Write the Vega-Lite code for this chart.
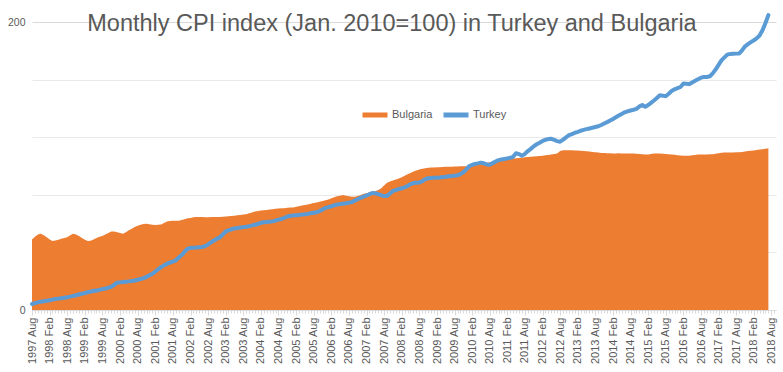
{
"$schema": "https://vega.github.io/schema/vega-lite/v6.json",
"width": 744, "height": 305,
"autosize": {"type": "none"},
"padding": {"left": 32, "top": 5, "right": 7, "bottom": 62},
"background": "white",
"title": {"text": "Monthly CPI index (Jan. 2010=100) in Turkey and Bulgaria", "font": "Liberation Sans", "fontSize": 23.5, "fontWeight": "normal", "color": "#595959", "anchor": "middle", "frame": "group", "orient": "top", "offset": -49, "dx": -12, "baseline": "alphabetic"},
"config": {"view": {"stroke": null}, "font": "Liberation Sans"},
"data": {"values": [
{"d":"1997-08","b":49,"t":4.2},{"d":"1997-09","b":51,"t":4.8},{"d":"1997-10","b":52.5,"t":5.3},{"d":"1997-11","b":53,"t":5.8},{"d":"1997-12","b":52,"t":6.1},
{"d":"1998-01","b":50.5,"t":6.4},{"d":"1998-02","b":49,"t":6.8},{"d":"1998-03","b":48,"t":7.2},{"d":"1998-04","b":48.3,"t":7.6},{"d":"1998-05","b":48.8,"t":7.9},{"d":"1998-06","b":49.5,"t":8.2},{"d":"1998-07","b":50,"t":8.5},{"d":"1998-08","b":50.5,"t":8.8},{"d":"1998-09","b":52,"t":9.3},{"d":"1998-10","b":53,"t":9.8},{"d":"1998-11","b":52.5,"t":10.3},{"d":"1998-12","b":51.5,"t":10.8},
{"d":"1999-01","b":50,"t":11.3},{"d":"1999-02","b":48.8,"t":11.8},{"d":"1999-03","b":48,"t":12.3},{"d":"1999-04","b":48.2,"t":12.8},{"d":"1999-05","b":49,"t":13.2},{"d":"1999-06","b":50,"t":13.6},{"d":"1999-07","b":51,"t":14},{"d":"1999-08","b":51.5,"t":14.5},{"d":"1999-09","b":52.5,"t":14.9},{"d":"1999-10","b":53.5,"t":15.5},{"d":"1999-11","b":54.5,"t":16.1},{"d":"1999-12","b":54.5,"t":17.5},
{"d":"2000-01","b":54,"t":19},{"d":"2000-02","b":53.5,"t":19.2},{"d":"2000-03","b":53,"t":19.4},{"d":"2000-04","b":54,"t":19.7},{"d":"2000-05","b":55.5,"t":19.9},{"d":"2000-06","b":56.5,"t":20.2},{"d":"2000-07","b":57.7,"t":20.5},{"d":"2000-08","b":58.5,"t":21},{"d":"2000-09","b":59.3,"t":21.5},{"d":"2000-10","b":59.8,"t":22.1},{"d":"2000-11","b":60,"t":23},{"d":"2000-12","b":59.6,"t":24.2},
{"d":"2001-01","b":59.2,"t":25.2},{"d":"2001-02","b":59,"t":26.7},{"d":"2001-03","b":59.2,"t":28.3},{"d":"2001-04","b":59.5,"t":29.8},{"d":"2001-05","b":60.5,"t":31},{"d":"2001-06","b":61.6,"t":32.2},{"d":"2001-07","b":61.9,"t":33},{"d":"2001-08","b":62,"t":33.6},{"d":"2001-09","b":62,"t":34.5},{"d":"2001-10","b":62,"t":36.5},{"d":"2001-11","b":62.5,"t":38.2},{"d":"2001-12","b":63.1,"t":40.5},
{"d":"2002-01","b":63.7,"t":42.6},{"d":"2002-02","b":64,"t":43.2},{"d":"2002-03","b":64.4,"t":43.3},{"d":"2002-04","b":64.6,"t":43.4},{"d":"2002-05","b":64.7,"t":43.6},{"d":"2002-06","b":64.6,"t":43.8},{"d":"2002-07","b":64.5,"t":44.4},{"d":"2002-08","b":64.5,"t":45.6},{"d":"2002-09","b":64.6,"t":47},{"d":"2002-10","b":64.7,"t":48.3},{"d":"2002-11","b":64.6,"t":49.5},{"d":"2002-12","b":64.6,"t":50.5},
{"d":"2003-01","b":64.8,"t":52.5},{"d":"2003-02","b":65,"t":54.6},{"d":"2003-03","b":65.1,"t":55.4},{"d":"2003-04","b":65.3,"t":56.1},{"d":"2003-05","b":65.5,"t":56.7},{"d":"2003-06","b":65.8,"t":57},{"d":"2003-07","b":66,"t":57.3},{"d":"2003-08","b":66.3,"t":57.6},{"d":"2003-09","b":66.5,"t":57.9},{"d":"2003-10","b":67.2,"t":58.3},{"d":"2003-11","b":67.8,"t":58.8},{"d":"2003-12","b":68.5,"t":59.3},
{"d":"2004-01","b":68.8,"t":59.8},{"d":"2004-02","b":69.1,"t":60.6},{"d":"2004-03","b":69.3,"t":61},{"d":"2004-04","b":69.5,"t":61.2},{"d":"2004-05","b":69.8,"t":61.4},{"d":"2004-06","b":70.1,"t":61.6},{"d":"2004-07","b":70.3,"t":62.1},{"d":"2004-08","b":70.6,"t":62.8},{"d":"2004-09","b":70.7,"t":63.3},{"d":"2004-10","b":70.8,"t":64.1},{"d":"2004-11","b":71,"t":65},{"d":"2004-12","b":71.2,"t":65.5},
{"d":"2005-01","b":71.3,"t":65.7},{"d":"2005-02","b":71.8,"t":65.9},{"d":"2005-03","b":72.2,"t":66.1},{"d":"2005-04","b":72.6,"t":66.3},{"d":"2005-05","b":73,"t":66.5},{"d":"2005-06","b":73.4,"t":66.8},{"d":"2005-07","b":73.9,"t":67.2},{"d":"2005-08","b":74.4,"t":67.6},{"d":"2005-09","b":74.8,"t":68},{"d":"2005-10","b":75.2,"t":68.8},{"d":"2005-11","b":75.8,"t":69.8},{"d":"2005-12","b":76.3,"t":71},
{"d":"2006-01","b":76.8,"t":71.5},{"d":"2006-02","b":77.6,"t":72.1},{"d":"2006-03","b":78.4,"t":72.7},{"d":"2006-04","b":79,"t":73.3},{"d":"2006-05","b":79.5,"t":73.6},{"d":"2006-06","b":79.9,"t":73.9},{"d":"2006-07","b":79.5,"t":74.2},{"d":"2006-08","b":79,"t":74.6},{"d":"2006-09","b":78.8,"t":75},{"d":"2006-10","b":78.7,"t":76},{"d":"2006-11","b":79.3,"t":77},{"d":"2006-12","b":80,"t":78},
{"d":"2007-01","b":80.8,"t":78.8},{"d":"2007-02","b":81.2,"t":79.6},{"d":"2007-03","b":81.6,"t":80.5},{"d":"2007-04","b":82.1,"t":81.3},{"d":"2007-05","b":82.6,"t":81.2},{"d":"2007-06","b":83.4,"t":80.5},{"d":"2007-07","b":84.5,"t":79.8},{"d":"2007-08","b":86.5,"t":79.2},{"d":"2007-09","b":88.5,"t":79.2},{"d":"2007-10","b":89.3,"t":81},{"d":"2007-11","b":90,"t":82.6},{"d":"2007-12","b":90.7,"t":83.4},
{"d":"2008-01","b":91.4,"t":84},{"d":"2008-02","b":92.3,"t":84.6},{"d":"2008-03","b":93.3,"t":85.2},{"d":"2008-04","b":94.3,"t":86.2},{"d":"2008-05","b":95.2,"t":87.5},{"d":"2008-06","b":96.2,"t":88.2},{"d":"2008-07","b":97,"t":88.4},{"d":"2008-08","b":97.7,"t":88.6},{"d":"2008-09","b":98.2,"t":89.5},{"d":"2008-10","b":98.5,"t":91},{"d":"2008-11","b":98.8,"t":91.6},{"d":"2008-12","b":99,"t":91.8},
{"d":"2009-01","b":99.1,"t":91.9},{"d":"2009-02","b":99.2,"t":92},{"d":"2009-03","b":99.3,"t":92.1},{"d":"2009-04","b":99.4,"t":92.4},{"d":"2009-05","b":99.5,"t":92.6},{"d":"2009-06","b":99.6,"t":92.9},{"d":"2009-07","b":99.6,"t":93.1},{"d":"2009-08","b":99.7,"t":93.3},{"d":"2009-09","b":99.8,"t":93.6},{"d":"2009-10","b":99.9,"t":94.4},{"d":"2009-11","b":99.9,"t":95.8},{"d":"2009-12","b":100,"t":97.7},
{"d":"2010-01","b":100,"t":100},{"d":"2010-02","b":100.8,"t":100.8},{"d":"2010-03","b":101.1,"t":101.5},{"d":"2010-04","b":101.4,"t":101.9},{"d":"2010-05","b":101.7,"t":102.4},{"d":"2010-06","b":102,"t":102},{"d":"2010-07","b":102.4,"t":101.2},{"d":"2010-08","b":102.7,"t":101},{"d":"2010-09","b":102.9,"t":102.1},{"d":"2010-10","b":103.2,"t":103.2},{"d":"2010-11","b":103.6,"t":104.2},{"d":"2010-12","b":104,"t":104.6},
{"d":"2011-01","b":104.3,"t":105},{"d":"2011-02","b":104.6,"t":105.4},{"d":"2011-03","b":105,"t":105.8},{"d":"2011-04","b":105.3,"t":106.5},{"d":"2011-05","b":105.5,"t":109},{"d":"2011-06","b":105.7,"t":108.4},{"d":"2011-07","b":105.9,"t":107.3},{"d":"2011-08","b":106.1,"t":108.5},{"d":"2011-09","b":106.3,"t":110.5},{"d":"2011-10","b":106.5,"t":112},{"d":"2011-11","b":106.7,"t":113.8},{"d":"2011-12","b":106.9,"t":115.2},
{"d":"2012-01","b":107.1,"t":116.3},{"d":"2012-02","b":107.3,"t":117.5},{"d":"2012-03","b":107.5,"t":118.3},{"d":"2012-04","b":107.8,"t":118.8},{"d":"2012-05","b":108.1,"t":119},{"d":"2012-06","b":108.4,"t":118.2},{"d":"2012-07","b":108.8,"t":117.4},{"d":"2012-08","b":110.5,"t":117},{"d":"2012-09","b":111,"t":118.4},{"d":"2012-10","b":111.1,"t":120},{"d":"2012-11","b":111.1,"t":121.5},{"d":"2012-12","b":111,"t":122.3},
{"d":"2013-01","b":110.9,"t":123.2},{"d":"2013-02","b":110.8,"t":123.8},{"d":"2013-03","b":110.7,"t":124.6},{"d":"2013-04","b":110.5,"t":125.2},{"d":"2013-05","b":110.4,"t":125.7},{"d":"2013-06","b":110.1,"t":126.2},{"d":"2013-07","b":109.9,"t":126.7},{"d":"2013-08","b":109.6,"t":127.2},{"d":"2013-09","b":109.4,"t":127.7},{"d":"2013-10","b":109.2,"t":128.6},{"d":"2013-11","b":109.1,"t":129.6},{"d":"2013-12","b":109,"t":130.6},
{"d":"2014-01","b":108.9,"t":131.7},{"d":"2014-02","b":108.8,"t":132.8},{"d":"2014-03","b":108.8,"t":134},{"d":"2014-04","b":108.9,"t":135.2},{"d":"2014-05","b":108.8,"t":136.3},{"d":"2014-06","b":108.8,"t":137.4},{"d":"2014-07","b":108.7,"t":138.1},{"d":"2014-08","b":108.8,"t":138.7},{"d":"2014-09","b":108.8,"t":139.2},{"d":"2014-10","b":108.6,"t":139.8},{"d":"2014-11","b":108.4,"t":141.5},{"d":"2014-12","b":108.2,"t":142.4},
{"d":"2015-01","b":108,"t":141.3},{"d":"2015-02","b":108.1,"t":142.5},{"d":"2015-03","b":108.4,"t":144},{"d":"2015-04","b":108.7,"t":145.6},{"d":"2015-05","b":108.8,"t":147.4},{"d":"2015-06","b":108.7,"t":149.2},{"d":"2015-07","b":108.6,"t":149},{"d":"2015-08","b":108.4,"t":148.6},{"d":"2015-09","b":108.3,"t":150.3},{"d":"2015-10","b":108.1,"t":152.2},{"d":"2015-11","b":107.9,"t":153.4},{"d":"2015-12","b":107.6,"t":154.2},
{"d":"2016-01","b":107.4,"t":155},{"d":"2016-02","b":107.3,"t":157.5},{"d":"2016-03","b":107.2,"t":157.3},{"d":"2016-04","b":107.3,"t":157},{"d":"2016-05","b":107.5,"t":158.1},{"d":"2016-06","b":107.8,"t":159.3},{"d":"2016-07","b":108,"t":160.4},{"d":"2016-08","b":108,"t":161.5},{"d":"2016-09","b":108,"t":162},{"d":"2016-10","b":108.1,"t":162},{"d":"2016-11","b":108.2,"t":162.5},{"d":"2016-12","b":108.3,"t":164.5},
{"d":"2017-01","b":108.6,"t":167.3},{"d":"2017-02","b":109,"t":170.5},{"d":"2017-03","b":109.3,"t":173.5},{"d":"2017-04","b":109.4,"t":175.6},{"d":"2017-05","b":109.4,"t":177.5},{"d":"2017-06","b":109.5,"t":178},{"d":"2017-07","b":109.5,"t":178.1},{"d":"2017-08","b":109.6,"t":178.2},{"d":"2017-09","b":109.6,"t":178.3},{"d":"2017-10","b":109.9,"t":180.5},{"d":"2017-11","b":110.2,"t":183.3},{"d":"2017-12","b":110.5,"t":184.8},
{"d":"2018-01","b":110.7,"t":186.2},{"d":"2018-02","b":110.9,"t":187.5},{"d":"2018-03","b":111.2,"t":188.8},{"d":"2018-04","b":111.5,"t":190.8},{"d":"2018-05","b":111.8,"t":194.5},{"d":"2018-06","b":112.1,"t":199.5},{"d":"2018-07","b":112.5,"t":205}
]},
"resolve": {"axis": {"x": "independent"}},
"layer": [
{"mark": {"type": "area", "opacity": 1},
 "encoding": {
  "x": {"field": "d", "type": "temporal",
   "scale": {"type": "utc", "domain": [{"year": 1997, "month": 8, "date": 1, "utc": true}, {"year": 2018, "month": 9, "date": 18, "utc": true}]},
   "axis": {"orient": "bottom", "title": null, "format": "%Y %b", "labelAngle": -90, "labelColor": "#595959", "labelFontSize": 11, "grid": false, "domainColor": "#d9d9d9", "tickColor": "#d9d9d9", "tickSize": 5, "labelPadding": 2, "labelFlush": false, "labelOverlap": false, "labelBound": false,
    "values": [{"year":1997,"month":8,"utc":true},{"year":1998,"month":2,"utc":true},{"year":1998,"month":8,"utc":true},{"year":1999,"month":2,"utc":true},{"year":1999,"month":8,"utc":true},{"year":2000,"month":2,"utc":true},{"year":2000,"month":8,"utc":true},{"year":2001,"month":2,"utc":true},{"year":2001,"month":8,"utc":true},{"year":2002,"month":2,"utc":true},{"year":2002,"month":8,"utc":true},{"year":2003,"month":2,"utc":true},{"year":2003,"month":8,"utc":true},{"year":2004,"month":2,"utc":true},{"year":2004,"month":8,"utc":true},{"year":2005,"month":2,"utc":true},{"year":2005,"month":8,"utc":true},{"year":2006,"month":2,"utc":true},{"year":2006,"month":8,"utc":true},{"year":2007,"month":2,"utc":true},{"year":2007,"month":8,"utc":true},{"year":2008,"month":2,"utc":true},{"year":2008,"month":8,"utc":true},{"year":2009,"month":2,"utc":true},{"year":2009,"month":8,"utc":true},{"year":2010,"month":2,"utc":true},{"year":2010,"month":8,"utc":true},{"year":2011,"month":2,"utc":true},{"year":2011,"month":8,"utc":true},{"year":2012,"month":2,"utc":true},{"year":2012,"month":8,"utc":true},{"year":2013,"month":2,"utc":true},{"year":2013,"month":8,"utc":true},{"year":2014,"month":2,"utc":true},{"year":2014,"month":8,"utc":true},{"year":2015,"month":2,"utc":true},{"year":2015,"month":8,"utc":true},{"year":2016,"month":2,"utc":true},{"year":2016,"month":8,"utc":true},{"year":2017,"month":2,"utc":true},{"year":2017,"month":8,"utc":true},{"year":2018,"month":2,"utc":true},{"year":2018,"month":8,"utc":true}]}},
  "y": {"field": "b", "type": "quantitative", "scale": {"domain": [0, 212], "nice": false},
   "axis": {"title": null, "values": [0,10,20,30,40,50,60,70,80,90,100,110,120,130,140,150,160,170,180,190,200,210], "labelExpr": "datum.value % 50 === 0 ? datum.label : ''", "domain": false, "ticks": false, "labelColor": "#595959", "labelFontSize": 10.5, "labelPadding": 7,
    "gridColor": {"condition": {"test": "datum.value % 50 === 0", "value": "#d9d9d9"}, "value": "#e9e9e9"}}},
  "color": {"datum": "Bulgaria", "scale": {"domain": ["Bulgaria", "Turkey"], "range": ["#ED7D31", "#5B9BD5"]},
   "legend": {"title": null, "orient": "none", "legendX": 328, "legendY": 95, "direction": "horizontal", "symbolType": "stroke", "symbolSize": 625, "symbolStrokeWidth": 5, "labelFontSize": 11, "labelColor": "#595959", "columnPadding": 0, "labelOffset": 2,
    "encode": {"symbols": {"update": {"stroke": {"scale": "color", "field": "value"}, "strokeWidth": {"value": 5}}}}}}
 }},
{"mark": {"type": "line", "strokeWidth": 4, "strokeCap": "round", "strokeJoin": "round"},
 "encoding": {
  "x": {"field": "d", "type": "temporal",
   "axis": {"orient": "bottom", "title": null, "labels": false, "domain": false, "grid": false, "ticks": true, "tickSize": 3, "tickColor": "#d9d9d9", "tickCount": {"interval": "month", "step": 1}}},
  "y": {"field": "t", "type": "quantitative"},
  "color": {"datum": "Turkey"}
 }}
]
}
